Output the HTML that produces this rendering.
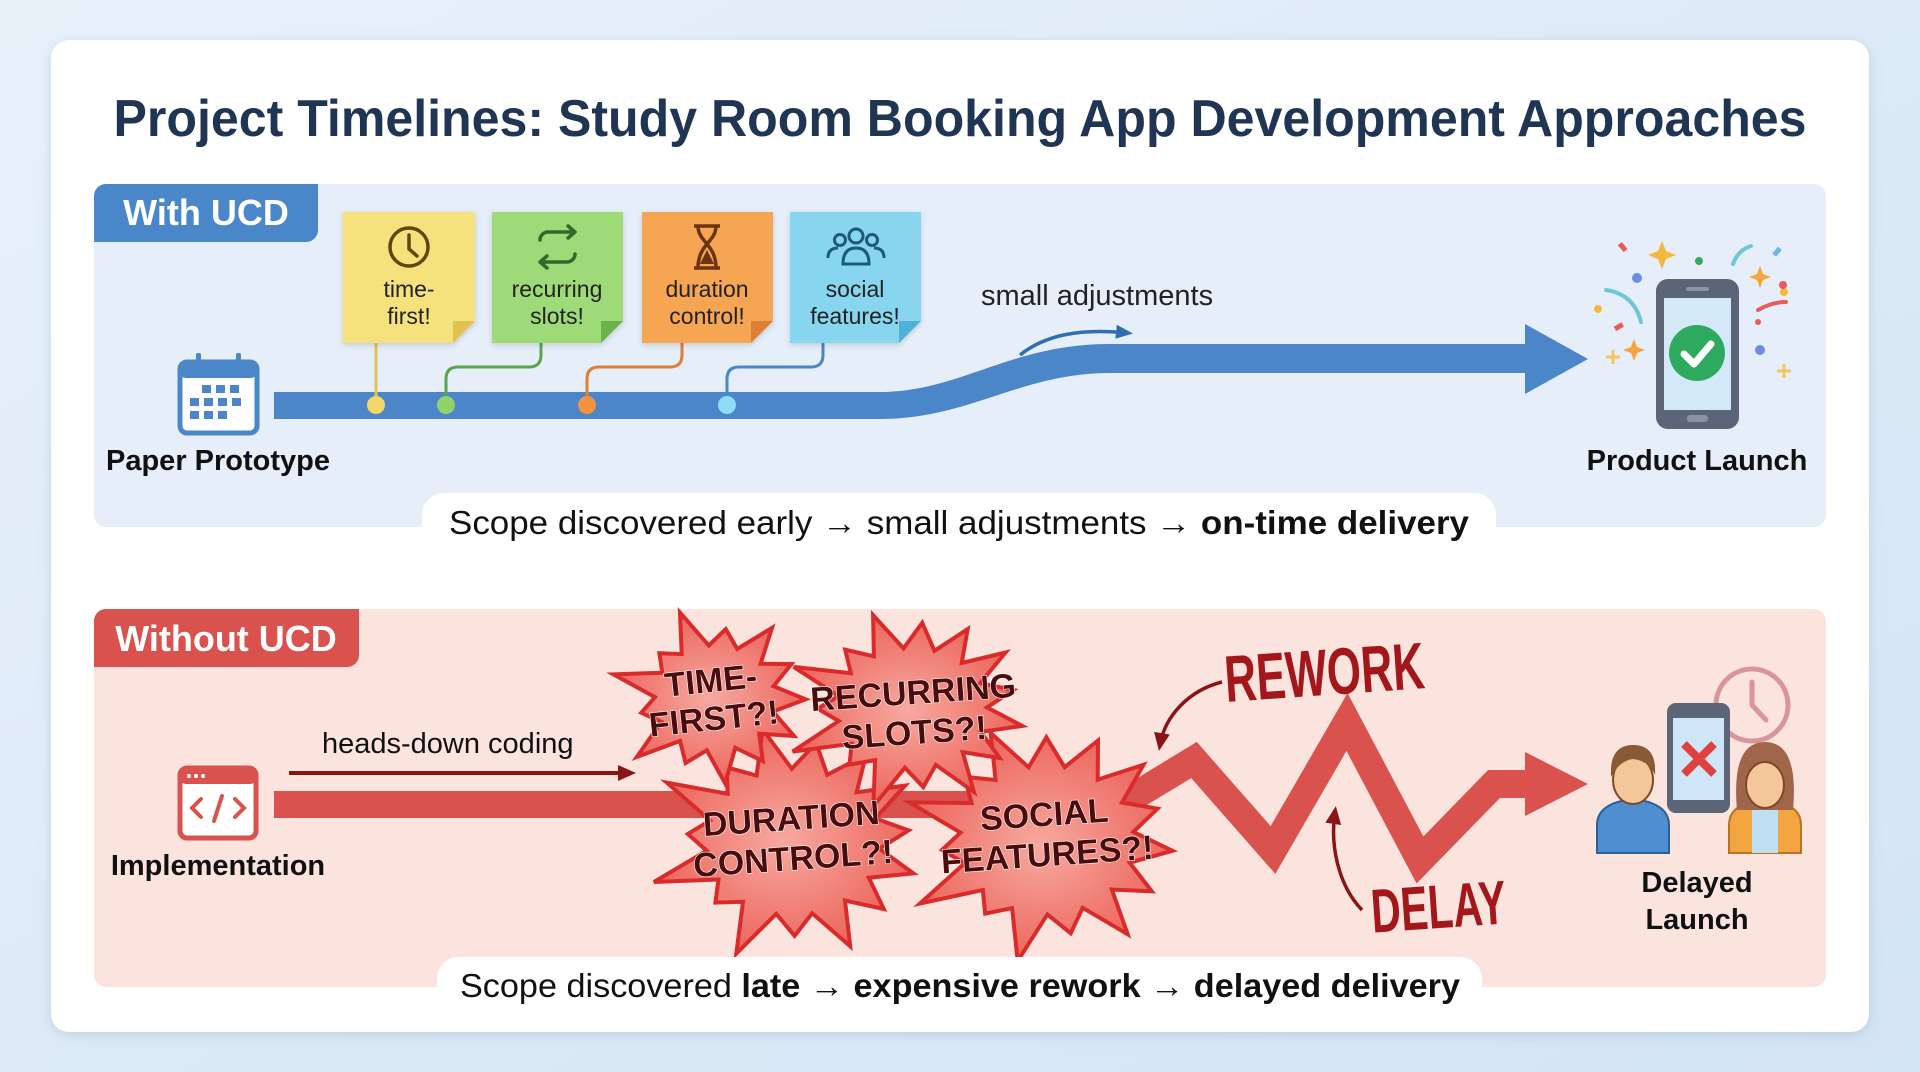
<!DOCTYPE html>
<html><head><meta charset="utf-8"><style>
html,body{margin:0;padding:0;width:1920px;height:1072px;overflow:hidden;background:#dfeaf6;}
svg{display:block}
text{font-family:"Liberation Sans",sans-serif}
</style></head><body>
<svg id="s" width="1920" height="1072" viewBox="0 0 1920 1072" xmlns="http://www.w3.org/2000/svg">
<defs>
<linearGradient id="bg" x1="0" y1="0" x2="1" y2="1"><stop offset="0" stop-color="#e8f1fa"/><stop offset="1" stop-color="#d3e4f4"/></linearGradient>
<filter id="sh" x="-5%" y="-5%" width="110%" height="110%"><feDropShadow dx="0" dy="3" stdDeviation="6" flood-color="#7a96b8" flood-opacity="0.3"/></filter>
<filter id="ts" x="-5%" y="-5%" width="110%" height="110%"><feDropShadow dx="0" dy="2" stdDeviation="3" flood-color="#000" flood-opacity="0.15"/></filter>
<radialGradient id="burst" cx="0.5" cy="0.5" r="0.6"><stop offset="0" stop-color="#f7a9a0"/><stop offset="1" stop-color="#ea5a50"/></radialGradient>
<marker id="ah" markerUnits="userSpaceOnUse" markerWidth="20" markerHeight="20" refX="12" refY="10" orient="auto"><path d="M0,2 L18,10 L0,18 Z" fill="#8b1515"/></marker>
<marker id="ahb" markerUnits="userSpaceOnUse" markerWidth="20" markerHeight="20" refX="12" refY="10" orient="auto"><path d="M0,3 L17,10 L0,17 Z" fill="#2f6fb0"/></marker>
</defs>
<rect width="1920" height="1072" fill="url(#bg)"/>
<rect x="51" y="40" width="1818" height="992" rx="18" fill="#ffffff" filter="url(#sh)"/>
<text x="960" y="136" text-anchor="middle" font-size="52" font-weight="bold" fill="#1f3553" textLength="1693" lengthAdjust="spacingAndGlyphs">Project Timelines: Study Room Booking App Development Approaches</text>

<rect x="94" y="184" width="1732" height="343" rx="12" fill="#e5eef9"/>
<path d="M94,196 a12,12 0 0 1 12,-12 H318 V230 a12,12 0 0 1 -12,12 H94 Z" fill="#4a87c9"/>
<text x="206" y="225" text-anchor="middle" font-size="36" font-weight="bold" fill="#fff">With UCD</text>

<path d="M274,392 H880 C960,392 1010,344 1110,344 H1530 V373 H1110 C1020,373 970,419 880,419 H274 Z" fill="#4a86c8"/>
<polygon points="1525,324 1588,359 1525,394" fill="#4a86c8"/>
<g fill="none" stroke-width="3">
<path d="M376,343 V405" stroke="#e0c25a"/>
<path d="M541,343 V355 q0,12 -12,12 H458 q-12,0 -12,12 V405" stroke="#5aa54a"/>
<path d="M682,343 V355 q0,12 -12,12 H599 q-12,0 -12,12 V405" stroke="#dd8034"/>
<path d="M823,343 V355 q0,12 -12,12 H739 q-12,0 -12,12 V405" stroke="#4a86c8"/>
</g>
<circle cx="376" cy="405" r="9" fill="#f5d86a"/>
<circle cx="446" cy="405" r="9" fill="#8fd46a"/>
<circle cx="587" cy="405" r="9" fill="#f2933f"/>
<circle cx="727" cy="405" r="9" fill="#8fdcf5"/>

<g filter="url(#ts)">
<path d="M343,212 H475 V321 L453,343 H343 Z" fill="#f6e27b"/>
<path d="M475,321 L453,321 L453,343 Z" fill="#e0c24e"/>
<path d="M492,212 H623 V321 L601,343 H492 Z" fill="#9edb78"/>
<path d="M623,321 L601,321 L601,343 Z" fill="#6cb24c"/>
<path d="M642,212 H773 V321 L751,343 H642 Z" fill="#f6a552"/>
<path d="M773,321 L751,321 L751,343 Z" fill="#dd8034"/>
<path d="M790,212 H921 V321 L899,343 H790 Z" fill="#87d5ee"/>
<path d="M921,321 L899,321 L899,343 Z" fill="#4fb1d6"/>
</g>
<circle cx="409" cy="247" r="19" fill="none" stroke="#5a4a10" stroke-width="3.5"/>
<path d="M409,235 V249 L417,256" fill="none" stroke="#5a4a10" stroke-width="3.5" stroke-linecap="round"/>
<g fill="none" stroke="#2f6a2a" stroke-width="3.5" stroke-linecap="round" stroke-linejoin="round">
<path d="M540,240 a8,8 0 0 1 8,-8 H574 M568,226 l7,6 -7,6"/>
<path d="M575,254 a8,8 0 0 1 -8,8 H541 M547,268 l-7,-6 7,-6"/>
</g>
<g fill="none" stroke="#6a3410" stroke-width="3.5"><path d="M694,226 H720 M694,268 H720 M698,226 C698,242 716,244 716,268 M716,226 C716,242 698,244 698,268"/></g>
<path d="M700,264 L707,250 L714,264 Z" fill="#6a3410"/>
<g fill="none" stroke="#1e5a78" stroke-width="3">
<circle cx="856" cy="236" r="7"/><circle cx="840" cy="240" r="5.5"/><circle cx="872" cy="240" r="5.5"/>
<path d="M843,264 q0,-16 13,-16 q13,0 13,16 Z"/><path d="M828,258 q0,-10 10,-10 M884,258 q0,-10 -10,-10"/>
</g>
<g font-size="23" fill="#222" text-anchor="middle">
<text x="409" y="297">time-</text><text x="409" y="324">first!</text>
<text x="557" y="297">recurring</text><text x="557" y="324">slots!</text>
<text x="707" y="297">duration</text><text x="707" y="324">control!</text>
<text x="855" y="297">social</text><text x="855" y="324">features!</text>
</g>

<text x="981" y="305" font-size="29" fill="#222">small adjustments</text>
<path d="M1020,355 C1045,335 1080,328 1128,333" fill="none" stroke="#2f6fb0" stroke-width="3.5" marker-end="url(#ahb)"/>

<rect x="180" y="362" width="77" height="71" rx="7" fill="#fff" stroke="#4a86c8" stroke-width="5"/>
<rect x="180" y="362" width="77" height="16" rx="6" fill="#4a86c8"/>
<rect x="196" y="353" width="5" height="14" rx="2" fill="#4a86c8"/><rect x="236" y="353" width="5" height="14" rx="2" fill="#4a86c8"/>
<g fill="#4a86c8">
<rect x="202" y="385" width="9" height="8"/><rect x="216" y="385" width="9" height="8"/><rect x="230" y="385" width="9" height="8"/>
<rect x="190" y="398" width="9" height="8"/><rect x="204" y="398" width="9" height="8"/><rect x="218" y="398" width="9" height="8"/><rect x="232" y="398" width="9" height="8"/>
<rect x="190" y="411" width="9" height="8"/><rect x="204" y="411" width="9" height="8"/><rect x="218" y="411" width="9" height="8"/>
</g>
<text x="218" y="470" text-anchor="middle" font-size="29" font-weight="bold" fill="#111">Paper Prototype</text>

<g>
<rect x="1656" y="279" width="83" height="150" rx="12" fill="#5b6577"/>
<rect x="1664" y="298" width="67" height="112" fill="#d4e9f8"/>
<rect x="1686" y="287" width="23" height="4" rx="2" fill="#8b94a3"/>
<rect x="1687" y="415" width="21" height="7" rx="3" fill="#8b94a3"/>
<circle cx="1697" cy="353" r="28" fill="#2daa5e"/>
<path d="M1684,354 L1694,364 L1711,344" fill="none" stroke="#fff" stroke-width="7" stroke-linecap="round" stroke-linejoin="round"/>
<path d="M1662,241 l4,10 10,4 -10,4 -4,10 -4,-10 -10,-4 10,-4 Z" fill="#f4b93c"/>
<path d="M1760,266 l3,8 8,3 -8,3 -3,8 -3,-8 -8,-3 8,-3 Z" fill="#f4a53c"/>
<path d="M1634,339 l3,8 8,3 -8,3 -3,8 -3,-8 -8,-3 8,-3 Z" fill="#f4a53c"/>
<path d="M1613,350 v14 M1606,357 h14 M1784,364 v14 M1777,371 h14" stroke="#f4c55c" stroke-width="3"/>
<path d="M1606,290 q28,4 35,32 M1733,264 q5,-14 18,-18" fill="none" stroke="#6cc7d6" stroke-width="4" stroke-linecap="round"/>
<path d="M1758,310 q14,-8 28,-8" fill="none" stroke="#e65c5c" stroke-width="4" stroke-linecap="round"/>
<circle cx="1637" cy="278" r="5" fill="#6b8fe0"/><circle cx="1699" cy="261" r="4" fill="#3aa860"/><circle cx="1784" cy="292" r="4" fill="#f4b93c"/><circle cx="1760" cy="350" r="5" fill="#6b8fe0"/><circle cx="1598" cy="309" r="4" fill="#f4b93c"/><circle cx="1783" cy="285" r="4" fill="#e65c5c"/>
<rect x="1620" y="243" width="5" height="9" fill="#e65c5c" transform="rotate(-40 1622 247)"/>
<rect x="1617" y="322" width="5" height="9" fill="#e65c5c" transform="rotate(60 1619 326)"/>
<rect x="1775" y="247" width="5" height="9" fill="#6cb8e0" transform="rotate(40 1777 251)"/>
<circle cx="1758" cy="322" r="3" fill="#e65c5c"/>
</g>
<text x="1697" y="470" text-anchor="middle" font-size="29" font-weight="bold" fill="#111">Product Launch</text>

<rect x="422" y="493" width="1074" height="58" rx="22" fill="#fff"/>
<text x="959" y="534" text-anchor="middle" font-size="33" fill="#111" textLength="1020" lengthAdjust="spacingAndGlyphs">Scope discovered early → small adjustments → <tspan font-weight="bold">on-time delivery</tspan></text>

<rect x="94" y="609" width="1732" height="378" rx="12" fill="#fbe4de"/>
<path d="M94,621 a12,12 0 0 1 12,-12 H359 V655 a12,12 0 0 1 -12,12 H94 Z" fill="#d9524d"/>
<text x="226" y="651" text-anchor="middle" font-size="36" font-weight="bold" fill="#fff">Without UCD</text>

<rect x="180" y="768" width="76" height="70" rx="7" fill="#fff" stroke="#d9524d" stroke-width="5"/>
<rect x="180" y="768" width="76" height="16" rx="6" fill="#d9524d"/>
<circle cx="189" cy="776" r="2" fill="#fff"/><circle cx="196" cy="776" r="2" fill="#fff"/><circle cx="203" cy="776" r="2" fill="#fff"/>
<path d="M201,799 l-9,9 9,9 M235,799 l9,9 -9,9 M222,796 l-8,25" fill="none" stroke="#d9524d" stroke-width="4" stroke-linecap="round"/>
<text x="218" y="875" text-anchor="middle" font-size="29" font-weight="bold" fill="#111">Implementation</text>

<text x="322" y="753" font-size="29" fill="#111">heads-down coding</text>
<line x1="289" y1="773" x2="630" y2="773" stroke="#8b1515" stroke-width="4" marker-end="url(#ah)"/>

<rect x="274" y="791" width="870" height="27" fill="#d9524d"/>
<polyline points="1120,805 1194,760 1273,850 1347,722 1420,860 1494,784 1535,784" fill="none" stroke="#d9524d" stroke-width="28" stroke-linejoin="miter"/>
<polygon points="1525,752 1588,784 1525,816" fill="#d9524d"/>

<g id="bursts"></g>

<g font-weight="bold" fill="#4a0d0d" text-anchor="middle" font-size="34" stroke="#fff" stroke-width="1.2" paint-order="stroke">
<text x="712" y="692" transform="rotate(-6 712 692)">TIME-</text>
<text x="715" y="730" transform="rotate(-6 715 730)">FIRST?!</text>
<text x="914" y="704" transform="rotate(-4 914 704)">RECURRING</text>
<text x="915" y="744" transform="rotate(-4 915 744)">SLOTS?!</text>
<text x="792" y="830" transform="rotate(-4 792 830)">DURATION</text>
<text x="794" y="870" transform="rotate(-4 794 870)">CONTROL?!</text>
<text x="1045" y="826" transform="rotate(-4 1045 826)">SOCIAL</text>
<text x="1048" y="866" transform="rotate(-4 1048 866)">FEATURES?!</text>
</g>

<text x="1326" y="695" text-anchor="middle" font-size="66" font-weight="bold" fill="#a3161a" transform="rotate(-4 1326 695)" textLength="200" lengthAdjust="spacingAndGlyphs">REWORK</text>
<path d="M1222,682 C1190,690 1165,715 1160,745" fill="none" stroke="#8b1515" stroke-width="3.5" marker-end="url(#ah)"/>
<text x="1440" y="928" text-anchor="middle" font-size="62" font-weight="bold" fill="#a3161a" transform="rotate(-4 1440 928)" textLength="135" lengthAdjust="spacingAndGlyphs">DELAY</text>
<path d="M1362,910 C1338,885 1330,845 1335,812" fill="none" stroke="#8b1515" stroke-width="3.5" marker-end="url(#ah)"/>

<g>
<circle cx="1752" cy="705" r="36" fill="none" stroke="#d9959a" stroke-width="5"/>
<path d="M1752,682 V705 L1766,720" fill="none" stroke="#d9959a" stroke-width="5" stroke-linecap="round"/>
<rect x="1667" y="703" width="63" height="110" rx="9" fill="#5b6577"/>
<rect x="1673" y="718" width="51" height="82" fill="#cfe6f7"/>
<path d="M1684,744 L1714,774 M1714,744 L1684,774" stroke="#e0403e" stroke-width="8"/>
<path d="M1597,853 V825 q0,-22 36,-26 q36,4 36,26 V853 Z" fill="#4f8fd0" stroke="#2d5f92" stroke-width="2"/>
<ellipse cx="1633" cy="780" rx="20" ry="24" fill="#f6c69b" stroke="#7a4a28" stroke-width="2"/>
<path d="M1611,777 q-2,-32 22,-32 q24,0 22,30 q-6,-14 -22,-16 q-14,2 -22,18 Z" fill="#8a5a34"/>
<path d="M1729,853 V825 q0,-22 36,-26 q36,4 36,26 V853 Z" fill="#f2a540" stroke="#b8741e" stroke-width="2"/>
<path d="M1752,800 V853 H1778 V800 Z" fill="#bfe0f2"/>
<path d="M1737,810 q-6,-68 28,-68 q34,0 28,68 Z" fill="#a0654a"/>
<ellipse cx="1765" cy="785" rx="19" ry="23" fill="#f6c69b" stroke="#7a4a28" stroke-width="2"/>
</g>
<text x="1697" y="892" text-anchor="middle" font-size="29" font-weight="bold" fill="#111">Delayed</text>
<text x="1697" y="929" text-anchor="middle" font-size="29" font-weight="bold" fill="#111">Launch</text>

<rect x="437" y="957" width="1045" height="58" rx="22" fill="#fff"/>
<text x="960" y="997" text-anchor="middle" font-size="33" fill="#111" textLength="1000" lengthAdjust="spacingAndGlyphs">Scope discovered <tspan font-weight="bold">late</tspan> → <tspan font-weight="bold">expensive rework</tspan> → <tspan font-weight="bold">delayed delivery</tspan></text>
</svg>
<script>
(function(){
var g=document.getElementById('bursts');
var B=[[793,842,140,118,15,0.62,0.3],[1047,840,140,120,15,0.62,0.1],[715,698,100,88,13,0.6,0.5],[912,708,125,100,15,0.6,0.2]];
B.forEach(function(b){
 var pts=[],n=b[4]*2;
 for(var i=0;i<n;i++){var a=b[6]+i*Math.PI*2/n;var r=(i%2==0)?1:b[5];var j=(i%2==0)?(0.9+0.15*Math.sin(i*1.7)):1;
  pts.push((b[0]+Math.cos(a)*b[2]*r*j).toFixed(1)+','+(b[1]+Math.sin(a)*b[3]*r*j).toFixed(1));}
 var p=document.createElementNS('http://www.w3.org/2000/svg','polygon');
 p.setAttribute('points',pts.join(' '));p.setAttribute('fill','url(#burst)');p.setAttribute('stroke','#d92b2b');p.setAttribute('stroke-width','4');p.setAttribute('stroke-linejoin','miter');
 g.appendChild(p);
});
})();
</script>
</body></html>
